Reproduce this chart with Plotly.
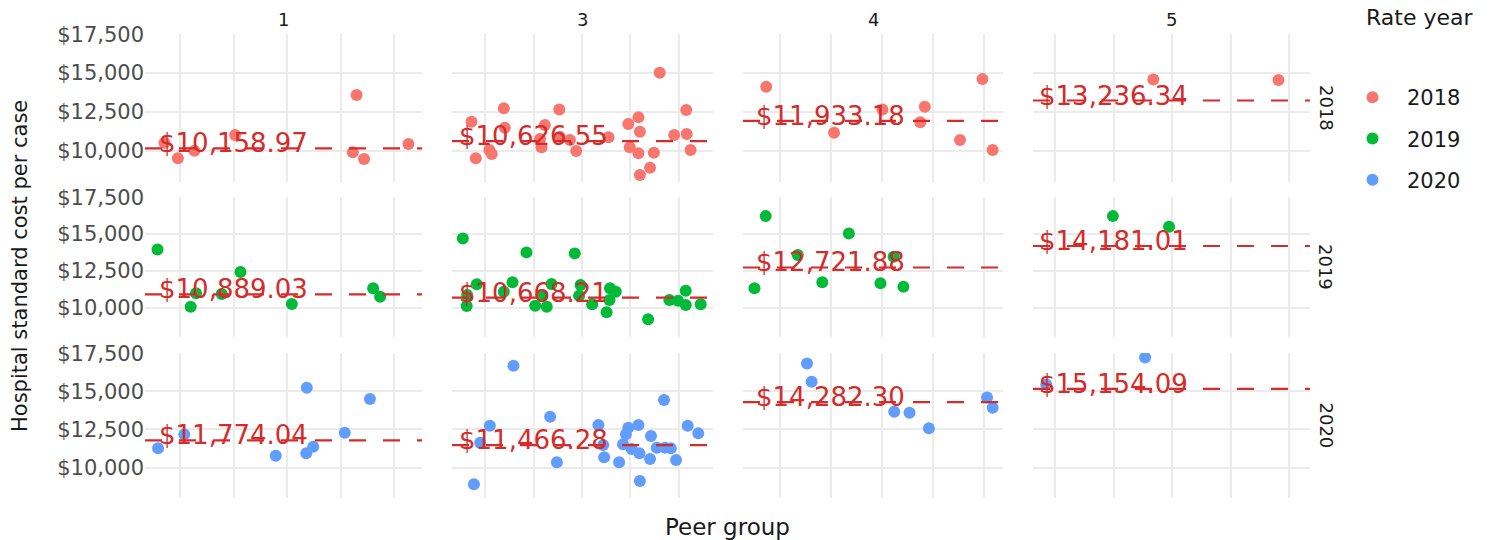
import plotly.graph_objects as go

W, H = 1492, 540

peer_groups = [1, 3, 4, 5]
rate_years = [2018, 2019, 2020]
year_colors = ["#F8766D", "#00BA38", "#619CFF"]

# Mean hospital standard cost per case, by rate year, for peer groups 1, 3, 4, 5
mean_2018 = [10158.97, 10626.55, 11933.18, 13236.34]
mean_2019 = [10889.03, 10668.21, 12721.88, 14181.01]
mean_2020 = [11774.04, 11466.28, 14282.30, 15154.09]

# Jittered peer-group positions of each hospital (one inner list per peer group)
x_2018 = [
    [0.771, 0.796, 0.827, 0.903, 1.130, 1.123, 1.144, 1.227],
    [2.771, 2.780, 2.808, 2.813, 2.838, 2.840, 2.923, 2.913, 2.916, 2.953, 2.954, 2.975, 2.988, 3.055,
     3.096, 3.117, 3.120, 3.099, 3.117, 3.161, 3.149, 3.141, 3.120, 3.191, 3.216, 3.217, 3.225],
    [3.773, 3.906, 4.001, 4.084, 4.075, 4.153, 4.197, 4.217],
    [4.968, 5.182],
]
cost_2018 = [
    [10523, 9521, 10009, 11017, 13584, 9906, 9476, 10439],
    [11870, 9521, 10054, 9797, 12731, 11485, 11659, 10760, 10227, 12666, 10908, 10696, 9990, 10869,
     11723, 12153, 11229, 10227, 9842, 15016, 9881, 8918, 8449, 11017, 12622, 11081, 10054],
    [14117, 11164, 12666, 12833, 11832, 10696, 14611, 10054],
    [14592, 14547],
]

x_2019 = [
    [0.758, 0.830, 0.820, 0.878, 0.913, 1.009, 1.161, 1.174],
    [2.753, 2.782, 2.762, 2.761, 2.838, 2.856, 2.885, 2.903, 2.916, 2.927, 2.937, 2.985, 2.997, 2.994,
     3.021, 3.051, 3.058, 3.057, 3.070, 3.137, 3.181, 3.199, 3.215, 3.215, 3.246],
    [3.772, 3.750, 3.835, 3.883, 3.935, 4.023, 3.997, 4.042],
    [4.899, 4.995],
]
cost_2019 = [
    [13951, 10965, 10056, 10918, 12411, 10239, 11305, 10735],
    [14698, 11576, 10850, 10104, 11074, 11712, 13748, 10124, 10850, 10056, 11596, 13680, 11529, 10803,
     10219, 9676, 11305, 10511, 11074, 9201, 10511, 10463, 11142, 10171, 10219],
    [16211, 11305, 13564, 11712, 15037, 13449, 11644, 11413],
    [16211, 15485],
]

x_2020 = [
    [0.759, 0.808, 0.979, 1.037, 1.036, 1.049, 1.108, 1.155],
    [2.858, 2.809, 2.789, 2.776, 2.934, 2.948, 3.034, 3.044, 3.046, 3.077, 3.096, 3.091, 3.117, 3.085,
     3.103, 3.119, 3.141, 3.143, 3.170, 3.155, 3.172, 3.184, 3.195, 3.120, 3.219, 3.241],
    [3.853, 3.862, 4.024, 4.054, 4.092, 4.206, 4.217],
    [4.954, 4.785],
]
cost_2020 = [
    [11256, 12173, 10771, 15227, 10929, 11361, 12278, 14486],
    [16668, 12737, 11623, 8898, 13327, 10339, 12783, 11472, 10667, 10339, 12606, 12173, 12783, 11518,
     11210, 10929, 10555, 12062, 14421, 11295, 11295, 11256, 10490, 9114, 12737, 12239],
    [16825, 15620, 13654, 13589, 12567, 14598, 13916],
    [17218, 15449],
]

y_ticks = [10000, 12500, 15000, 17500]
y_ticktext = ["$10,000", "$12,500", "$15,000", "$17,500"]

xs = [x_2018, x_2019, x_2020]
costs = [cost_2018, cost_2019, cost_2020]
means = [mean_2018, mean_2019, mean_2020]

# ---------------- layout geometry (pixels) ----------------
col_px = [(145, 422), (452, 713), (743, 1003), (1033, 1310)]
row_px = [(34, 182), (197, 337), (353, 498)]
x_ranges = [(0.7346, 1.2523), (2.7306, 3.2715), (3.7275, 4.2373), (4.7624, 5.2359)]
y_range = (8000, 17510)

LINE_RED = "#D42B2B"
GRID = "#EBEBEB"
FONT = "DejaVu Sans"

fig = go.Figure()
layout = dict(
    width=W, height=H,
    margin=dict(l=0, r=0, t=0, b=0, autoexpand=False),
    paper_bgcolor="white", plot_bgcolor="white",
    font=dict(family=FONT, color="#1a1a1a"),
    showlegend=True,
)
shapes = []
annotations = []

for r, year in enumerate(rate_years):
    for c, pg in enumerate(peer_groups):
        i = r * 4 + c + 1
        xa = "x" if i == 1 else f"x{i}"
        ya = "y" if i == 1 else f"y{i}"
        xkey = "xaxis" if i == 1 else f"xaxis{i}"
        ykey = "yaxis" if i == 1 else f"yaxis{i}"
        cl, cr = col_px[c]
        rt, rb = row_px[r]
        layout[xkey] = dict(
            domain=[cl / W, cr / W], range=list(x_ranges[c]), anchor=ya,
            tickvals=[pg - 0.2, pg - 0.1, pg, pg + 0.1, pg + 0.2],
            showticklabels=False, ticks="", showgrid=True, gridcolor=GRID, gridwidth=1.5,
            zeroline=False, showline=False, fixedrange=True, automargin=False,
        )
        layout[ykey] = dict(
            domain=[1 - rb / H, 1 - rt / H], range=list(y_range), anchor=xa,
            tickvals=y_ticks, ticktext=y_ticktext, showticklabels=(c == 0), ticks="",
            tickfont=dict(family=FONT, size=21, color="#4D4D4D"),
            showgrid=True, gridcolor=GRID, gridwidth=1.5,
            zeroline=False, showline=False, fixedrange=True, automargin=False,
        )
        fig.add_trace(go.Scatter(
            x=xs[r][c], y=costs[r][c], xaxis=xa, yaxis=ya, mode="markers",
            marker=dict(color=year_colors[r], size=12, line=dict(width=0)),
            name=str(year), legendgroup=str(year), showlegend=(c == 0),
        ))
        m = means[r][c]
        shapes.append(dict(
            type="line", xref=f"{xa} domain", yref=ya, x0=0, x1=1, y0=m, y1=m,
            line=dict(color=LINE_RED, width=2.2, dash="17px,17px"), layer="above",
        ))
        annotations.append(dict(
            x=pg - 0.1, y=m, xref=xa, yref=ya, text=f"${m:,.2f}", showarrow=False,
            xanchor="center", yanchor="middle", yshift=5,
            font=dict(family=FONT, size=26, color=LINE_RED),
        ))

# column strips
for c, pg in enumerate(peer_groups):
    cl, cr = col_px[c]
    annotations.append(dict(
        text=str(pg), xref="paper", yref="paper", x=(cl + cr) / 2 / W, y=1 - 20 / H,
        showarrow=False, font=dict(family=FONT, size=18, color="#1a1a1a"),
        xanchor="center", yanchor="middle",
    ))
# row strips
for r, year in enumerate(rate_years):
    rt, rb = row_px[r]
    annotations.append(dict(
        text=str(year), xref="paper", yref="paper", x=1326 / W, y=1 - (rt + rb) / 2 / H,
        showarrow=False, textangle=90, font=dict(family=FONT, size=18, color="#1a1a1a"),
        xanchor="center", yanchor="middle",
    ))
# axis titles
annotations.append(dict(
    text="Peer group", xref="paper", yref="paper", x=(145 + 1310) / 2 / W, y=1 - 527 / H,
    showarrow=False, font=dict(family=FONT, size=23, color="#1a1a1a"),
    xanchor="center", yanchor="middle",
))
annotations.append(dict(
    text="Hospital standard cost per case", xref="paper", yref="paper", x=20 / W,
    y=1 - 266 / H, showarrow=False, textangle=-90,
    font=dict(family=FONT, size=21, color="#1a1a1a"), xanchor="center", yanchor="middle",
))
# legend title
annotations.append(dict(
    text="Rate year", xref="paper", yref="paper", x=1364 / W, y=1 - 18 / H,
    showarrow=False, font=dict(family=FONT, size=22, color="#1a1a1a"),
    xanchor="left", yanchor="middle",
))

layout["shapes"] = shapes
layout["annotations"] = annotations
layout["legend"] = dict(
    x=1338 / W, y=1 - 77 / H, xanchor="left", yanchor="top",
    font=dict(family=FONT, size=21, color="#1a1a1a"),
    tracegroupgap=11, itemwidth=59, bgcolor="rgba(0,0,0,0)",
)
fig.update_layout(**layout)

fig.write_html("out.html", config={"displayModeBar": False},
               post_script="document.body.style.margin='0';")
